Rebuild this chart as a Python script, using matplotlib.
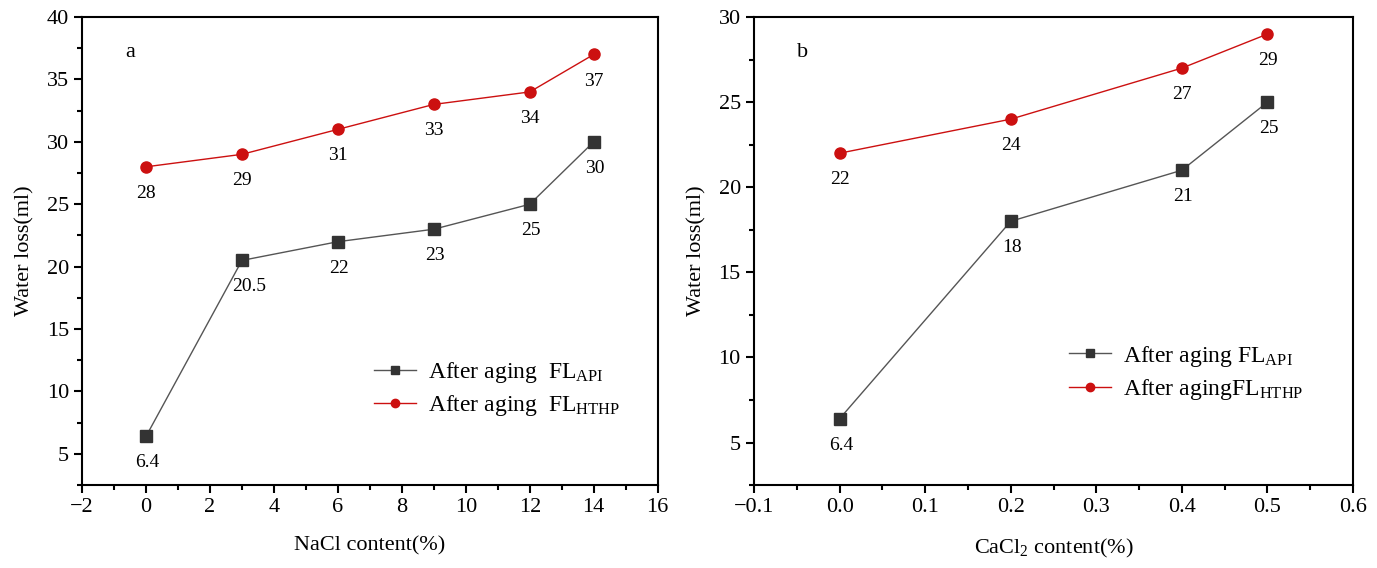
import matplotlib
matplotlib.use("Agg")
import matplotlib.pyplot as plt
from matplotlib.ticker import MultipleLocator

plt.rcParams['font.family'] = ['Liberation Serif', 'DejaVu Serif']
plt.rcParams['mathtext.fontset'] = 'custom'
plt.rcParams['mathtext.rm'] = 'Liberation Serif'
plt.rcParams['mathtext.it'] = 'Liberation Serif:italic'
plt.rcParams['mathtext.bf'] = 'Liberation Serif:bold'

# Panel a: NaCl
nacl_x = [0, 3, 6, 9, 12, 14]
nacl_api = [6.4, 20.5, 22, 23, 25, 30]
nacl_hthp = [28, 29, 31, 33, 34, 37]

# Panel b: CaCl2
cacl_x = [0.0, 0.2, 0.4, 0.5]
cacl_api = [6.4, 18, 21, 25]
cacl_hthp = [22, 24, 27, 29]

api_color = '#333333'
api_line = '#555555'
hthp_color = '#cc1010'

fig = plt.figure(figsize=(13.77, 5.68), dpi=100)
axA = fig.add_axes([0.0596, 0.146, 0.418, 0.824])
axB = fig.add_axes([0.5476, 0.146, 0.435, 0.824])

def style(ax):
    for s in ax.spines.values():
        s.set_linewidth(1.5)
    ax.tick_params(which='both', direction='out', labelsize=16, width=1.5)
    ax.tick_params(which='major', length=6)
    ax.tick_params(which='minor', length=3.5)

# Panel a
axA.plot(nacl_x, nacl_api, color=api_line, lw=1.0, marker='s', ms=8,
         mfc=api_color, mec=api_color, label=r'After aging  FL$_{\mathrm{API}}$')
axA.plot(nacl_x, nacl_hthp, color=hthp_color, lw=1.0, marker='o', ms=8,
         mfc=hthp_color, mec=hthp_color, label=r'After aging  FL$_{\mathrm{HTHP}}$')
for x, y in zip(nacl_x, nacl_api):
    t = f'{y:g}'
    axA.annotate(t, (x, y), xytext=(1 if t != '20.5' else 5, -13), textcoords='offset points',
                 ha='center', va='top', fontsize=14)
for x, y in zip(nacl_x, nacl_hthp):
    axA.annotate(f'{y:g}', (x, y), xytext=(0, -13), textcoords='offset points',
                 ha='center', va='top', fontsize=14)
axA.set_xlim(-2, 16)
axA.set_ylim(2.5, 40)
axA.xaxis.set_major_locator(MultipleLocator(2))
axA.xaxis.set_minor_locator(MultipleLocator(1))
axA.yaxis.set_major_locator(MultipleLocator(5))
axA.yaxis.set_minor_locator(MultipleLocator(2.5))
axA.set_xticks([-2, 0, 2, 4, 6, 8, 10, 12, 14, 16])
axA.set_xticklabels(['\u22122', '0', '2', '4', '6', '8', '10', '12', '14', '16'])
axA.set_xlabel('NaCl content(%)', fontsize=16, labelpad=14)
axA.set_ylabel('Water loss(ml)', fontsize=16, labelpad=9)
axA.text(0.075, 0.925, 'a', transform=axA.transAxes, fontsize=16, va='center')
style(axA)
axA.legend(loc='center left', bbox_to_anchor=(0.47, 0.205), frameon=False,
           fontsize=17, handlelength=1.8, labelspacing=0.35, handletextpad=0.5,
           markerscale=0.75)

# Panel b
axB.plot(cacl_x, cacl_api, color=api_line, lw=1.0, marker='s', ms=8,
         mfc=api_color, mec=api_color, label=r'After aging FL$_{\mathrm{API}}$')
axB.plot(cacl_x, cacl_hthp, color=hthp_color, lw=1.0, marker='o', ms=8,
         mfc=hthp_color, mec=hthp_color, label=r'After agingFL$_{\mathrm{HTHP}}$')
for x, y in zip(cacl_x, cacl_api):
    axB.annotate(f'{y:g}', (x, y), xytext=(1, -13), textcoords='offset points',
                 ha='center', va='top', fontsize=14)
for x, y in zip(cacl_x, cacl_hthp):
    axB.annotate(f'{y:g}', (x, y), xytext=(0, -13), textcoords='offset points',
                 ha='center', va='top', fontsize=14)
axB.set_xlim(-0.1, 0.6)
axB.set_ylim(2.5, 30)
axB.xaxis.set_major_locator(MultipleLocator(0.1))
axB.xaxis.set_minor_locator(MultipleLocator(0.05))
axB.yaxis.set_major_locator(MultipleLocator(5))
axB.yaxis.set_minor_locator(MultipleLocator(2.5))
axB.set_xticks([-0.1, 0.0, 0.1, 0.2, 0.3, 0.4, 0.5, 0.6])
axB.set_xticklabels(['\u22120.1', '0.0', '0.1', '0.2', '0.3', '0.4', '0.5', '0.6'])
axB.set_xlabel(r'CaCl$_2$ content(%)', fontsize=16, labelpad=14)
axB.set_ylabel('Water loss(ml)', fontsize=16, labelpad=9)
axB.text(0.072, 0.925, 'b', transform=axB.transAxes, fontsize=16, va='center')
style(axB)
axB.legend(loc='center left', bbox_to_anchor=(0.49, 0.24), frameon=False,
           fontsize=17, handlelength=1.8, labelspacing=0.35, handletextpad=0.5,
           markerscale=0.75)

fig.savefig('out.png', dpi=100)
